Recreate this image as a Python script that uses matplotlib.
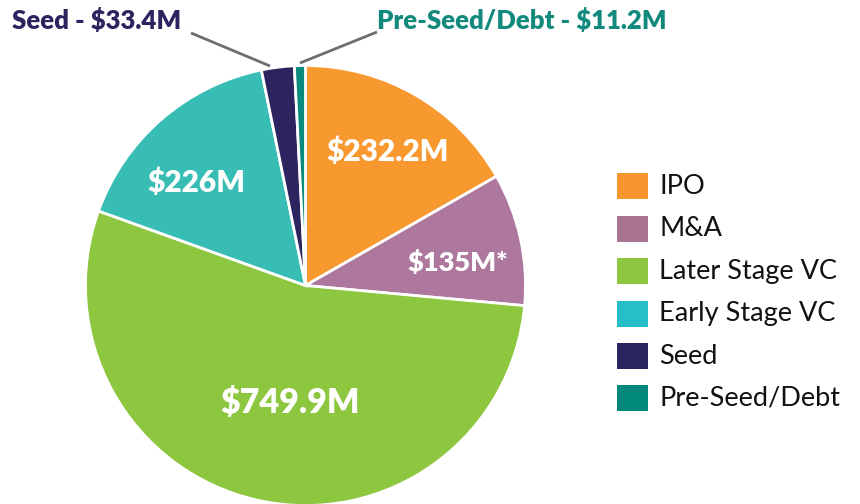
import matplotlib
matplotlib.use("Agg")
import matplotlib.pyplot as plt
from matplotlib.patches import Rectangle

categories = ["IPO", "M&A", "Later Stage VC", "Early Stage VC", "Seed", "Pre-Seed/Debt"]
values = [232.2, 135.0, 749.9, 226.0, 33.4, 11.2]
inner_labels = ["$232.2M", "$135M*", "$749.9M", "$226M", None, None]
pie_colors = ["#F7992F", "#AE779E", "#8DC63F", "#38BDB4", "#2B245E", "#0A8A7C"]
legend_colors = ["#F7962F", "#A87490", "#8DC63F", "#26BFC8", "#2A245E", "#00897B"]

W, H = 860, 504
fig = plt.figure(figsize=(W / 100, H / 100), dpi=100)
ax = fig.add_axes([0, 0, 1, 1])

cx, cy, r = 305.5, H - 285.5, 220
ax.pie(values, colors=pie_colors, startangle=90, counterclock=False,
       center=(cx, cy), radius=r, frame=True,
       wedgeprops=dict(edgecolor="white", linewidth=2))
ax.set_xlim(0, W)
ax.set_ylim(0, H)
ax.set_aspect("equal")
ax.axis("off")

font = "Lato"
# inner labels
pos = {"$232.2M": (388, 152), "$135M*": (458, 262), "$749.9M": (290, 403), "$226M": (196, 183)}
sizes = {"$232.2M": 21.5, "$135M*": 19.5, "$749.9M": 24.5, "$226M": 21.5}
for lab in inner_labels:
    if lab is None:
        continue
    x, y = pos[lab]
    ax.text(x, H - y, lab, ha="center", va="center", color="white",
            fontsize=sizes[lab], fontweight="heavy", family=font)

# outer labels with leaders
ax.text(12, H - 20, f"Seed - ${values[4]}M", ha="left", va="center", color="#2B245E",
        fontsize=18.5, fontweight="heavy", family=font)
ax.text(377, H - 20, f"Pre-Seed/Debt - ${values[5]}M", ha="left", va="center", color="#12897D",
        fontsize=18.5, fontweight="heavy", family=font)
ax.plot([191, 270], [H - 33, H - 66], color="#6E6E6E", lw=2, solid_capstyle="butt")
ax.plot([377, 300], [H - 32, H - 63], color="#6E6E6E", lw=2, solid_capstyle="butt")

# legend
ys = [186, 229, 271, 314, 356, 398]
for cat, col, y in zip(categories, legend_colors, ys):
    ax.add_patch(Rectangle((617, H - y - 13), 31, 26, facecolor=col, edgecolor="none"))
    ax.text(659, H - y, cat, ha="left", va="center", color="#111111",
            fontsize=19.5, fontweight="normal", family=font)

fig.savefig("out.png", dpi=100)
